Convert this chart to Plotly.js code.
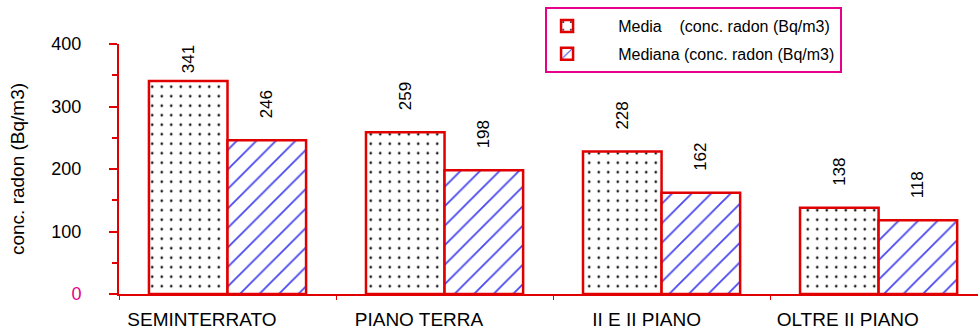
<!DOCTYPE html>
<html>
<head>
<meta charset="utf-8">
<script src="https://cdn.plot.ly/plotly-3.0.1.min.js"></script>
<style>html,body{margin:0;padding:0;background:#fff;}#chart{width:978px;height:329px;}</style>
</head>
<body>
<div id="chart"></div>
<script>
// Radon concentration by floor level
const floors = ["SEMINTERRATO", "PIANO TERRA", "II E II PIANO", "OLTRE II PIANO"];
const media = [341, 259, 228, 138];
const mediana = [246, 198, 162, 118];
const yTicks = [0, 100, 200, 300, 400];
const yTickLabels = ["0", "100", "200", "300", "400"];

const RED = "#e00000";
const PINK = "#e6008a";
const font = "Liberation Sans, Arial, sans-serif";
const NB = "\u00A0";

// value labels sit a little above each bar; the tallest one is kept under the top edge
function valueLabels(vals) {
  return vals.map(v => (v > 300 ? NB : NB.repeat(4)) + String(v));
}

// category labels are set slightly left of each group centre
const labelPad = [4, 4, 0, 6];
const xTickText = floors.map((f, i) => f + NB.repeat(labelPad[i]));
const yTickText = yTickLabels.map(t => t === "0" ? '<span style="color:' + PINK + '">0</span>' : t);
const legendIndent = NB.repeat(7);

const traces = [
  {
    type: "bar",
    name: legendIndent + "Media" + NB.repeat(4) + "(conc. radon (Bq/m3)",
    legendgroup: "a",
    x: floors,
    y: media,
    text: valueLabels(media),
    textposition: "outside",
    textangle: -90,
    cliponaxis: false,
    textfont: {family: font, size: 17, color: "#000"},
    marker: {
      color: "#fff",
      line: {color: RED, width: 2.5},
      pattern: {shape: ".", fgcolor: "#1a1a1a", bgcolor: "#fff", size: 9.5, solidity: 0.06}
    }
  },
  {
    type: "bar",
    name: legendIndent + "Mediana (conc. radon (Bq/m3)",
    legendgroup: "b",
    x: floors,
    y: mediana,
    text: valueLabels(mediana),
    textposition: "outside",
    textangle: -90,
    cliponaxis: false,
    textfont: {family: font, size: 17, color: "#000"},
    marker: {
      color: "#fff",
      line: {color: RED, width: 2.5},
      pattern: {shape: "/", fgcolor: "#4848ee", bgcolor: "#fff", size: 13.8, solidity: 0.13}
    }
  }
];

const layout = {
  width: 978,
  height: 329,
  margin: {l: 119, r: 0, t: 44, b: 35},
  paper_bgcolor: "#fff",
  plot_bgcolor: "#fff",
  font: {family: font, size: 16, color: "#000"},
  barmode: "group",
  bargap: 0.276,
  bargroupgap: 0,
  showlegend: true,
  legend: {
    x: 0.496, xanchor: "left",
    y: 1.148, yanchor: "top",
    bordercolor: PINK, borderwidth: 2,
    bgcolor: "#fff",
    font: {family: font, size: 16, color: "#000"},
    tracegroupgap: 4
  },
  xaxis: {
    range: [-0.5, 3.458],
    tickvals: floors, ticktext: xTickText,
    showline: true, linecolor: RED, linewidth: 2,
    ticks: "outside", tickson: "boundaries", ticklen: 4, tickcolor: RED, tickwidth: 1,
    ticklabelstandoff: 7,
    ticklabelshift: -15,
    tickfont: {family: font, size: 19, color: "#000"},
    showgrid: false, zeroline: false, fixedrange: true
  },
  yaxis: {
    range: [0, 400],
    tickvals: yTicks, ticktext: yTickText,
    showline: true, linecolor: RED, linewidth: 2,
    ticks: "outside", ticklen: 8, tickcolor: RED, tickwidth: 2,
    minor: {dtick: 50, ticks: "outside", ticklen: 5, tickcolor: RED, tickwidth: 2, showgrid: false},
    ticklabelstandoff: 24,
    tickfont: {family: font, size: 18, color: "#000"},
    title: {text: NB.repeat(3) + "conc. radon (Bq/m3)", font: {family: font, size: 19, color: "#000"}, standoff: 22},
    showgrid: false, zeroline: false, fixedrange: true
  }
};

Plotly.newPlot("chart", traces, layout, {displayModeBar: false, staticPlot: true});
</script>
</body>
</html>
